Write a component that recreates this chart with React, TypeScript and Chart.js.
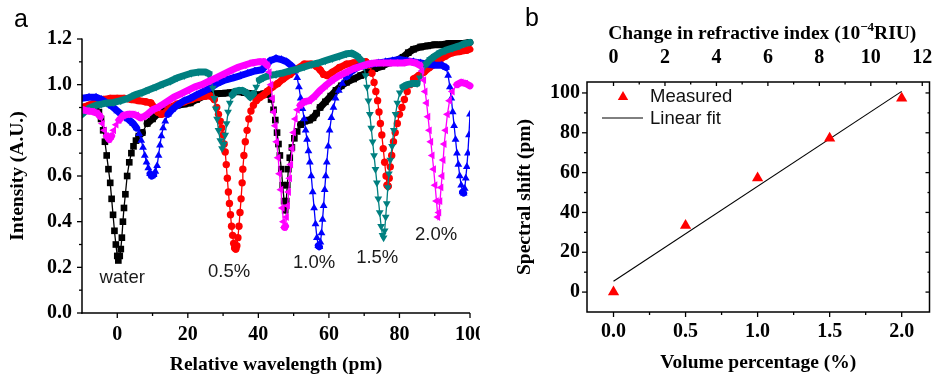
import React, { useEffect, useRef } from "react";
import { Chart, registerables } from "chart.js";

Chart.register(...registerables);

// ---------- Panel a: transmission spectra (relative wavelength pm, intensity A.U.) ----------
const waterSpectrum: [number, number][] = [
  [-10, 0.9], [-8, 0.905], [-6, 0.905], [-5.2, 0.88], [-4.6, 0.85], [-4, 0.8], [-3.5, 0.75], [-3, 0.69],
  [-2.5, 0.63], [-2, 0.57], [-1.6, 0.5], [-1.2, 0.43], [-0.8, 0.36], [-0.4, 0.3], [0, 0.25], [0.3, 0.23],
  [0.7, 0.25], [1, 0.28], [1.3, 0.33], [1.6, 0.4], [1.9, 0.46], [2.3, 0.52], [2.8, 0.6], [3.4, 0.66],
  [4, 0.7], [4.6, 0.73], [5.3, 0.755], [6.1, 0.775], [7.1, 0.79], [8.5, 0.83], [10, 0.85], [11.3, 0.87],
  [13, 0.885], [15, 0.9], [17, 0.91], [19, 0.915], [20.7, 0.92], [22.5, 0.935], [24.5, 0.95], [26.3, 0.958],
  [28, 0.96], [30, 0.962], [32, 0.965], [34, 0.97], [36, 0.965], [38, 0.96], [40, 0.955], [41.5, 0.96],
  [42.7, 0.958], [43.6, 0.935], [44.3, 0.89], [44.8, 0.845], [45.3, 0.79], [45.7, 0.74], [46.1, 0.69],
  [46.5, 0.63], [46.9, 0.56], [47.3, 0.49], [47.6, 0.45], [47.9, 0.49], [48.2, 0.56], [48.5, 0.63],
  [48.9, 0.68], [49.5, 0.725], [50.2, 0.765], [51, 0.795], [52, 0.825], [53.2, 0.84], [54.5, 0.845],
  [55.5, 0.855], [56.5, 0.875], [57.5, 0.9], [59, 0.925], [60.5, 0.95], [62, 0.975], [63.5, 0.995],
  [65, 1.01], [67, 1.025], [69, 1.04], [71, 1.055], [73, 1.07], [75, 1.08], [77, 1.095], [79, 1.105],
  [81, 1.12], [82.5, 1.14], [84, 1.155], [86, 1.165], [88, 1.17], [90, 1.175], [92, 1.175], [94, 1.18],
  [96, 1.18], [98, 1.18], [100, 1.185],
];

const pct05Spectrum: [number, number][] = [
  [-10, 0.9], [-8, 0.91], [-6, 0.925], [-4, 0.935], [-2, 0.94], [0, 0.94], [2, 0.94], [4, 0.935],
  [6, 0.93], [8, 0.925], [9.5, 0.92], [10.5, 0.9], [11.5, 0.88], [12.5, 0.87], [13.5, 0.875], [15, 0.9],
  [17, 0.915], [19, 0.925], [21, 0.935], [23, 0.945], [25, 0.95], [26.5, 0.95], [27.5, 0.935], [28.2, 0.9],
  [28.7, 0.87], [29.2, 0.84], [29.6, 0.81], [30, 0.78], [30.3, 0.74], [30.6, 0.705], [30.9, 0.65],
  [31.2, 0.59], [31.5, 0.53], [31.8, 0.48], [32.1, 0.43], [32.4, 0.38], [32.7, 0.34], [33, 0.305],
  [33.3, 0.285], [33.6, 0.28], [33.9, 0.295], [34.2, 0.33], [34.5, 0.38], [34.8, 0.44], [35.1, 0.5],
  [35.4, 0.57], [35.6, 0.63], [35.9, 0.69], [36.3, 0.75], [36.8, 0.8], [37.3, 0.85], [37.9, 0.885],
  [38.6, 0.91], [39.4, 0.93], [40.5, 0.945], [41.5, 0.955], [42.5, 0.97], [44, 0.99], [45.5, 1.005],
  [47, 1.025], [49, 1.045], [51, 1.07], [53, 1.09], [55, 1.09], [56.5, 1.08], [57.5, 1.065], [58.5, 1.045],
  [59.5, 1.04], [61, 1.055], [63, 1.075], [65, 1.09], [67, 1.095], [69, 1.1], [70.5, 1.1], [71.5, 1.085],
  [72.2, 1.05], [72.8, 1.01], [73.3, 0.97], [73.8, 0.93], [74.2, 0.88], [74.6, 0.83], [75, 0.78],
  [75.4, 0.72], [75.8, 0.66], [76.2, 0.6], [76.5, 0.56], [76.8, 0.555], [77.1, 0.59], [77.4, 0.64],
  [77.8, 0.69], [78.3, 0.75], [78.8, 0.79], [79.4, 0.83], [80, 0.87], [80.7, 0.9], [81.4, 0.935],
  [82.2, 0.97], [83, 1.0], [84, 1.025], [85.5, 1.04], [87, 1.055], [88.5, 1.075], [90, 1.09], [91.5, 1.11],
  [93, 1.125], [95, 1.14], [97, 1.145], [99, 1.15], [100, 1.155],
];

const pct10Spectrum: [number, number][] = [
  [-10, 0.94], [-8, 0.945], [-6, 0.945], [-4.5, 0.935], [-3, 0.92], [-1.5, 0.905], [0, 0.885], [1.5, 0.865],
  [3, 0.85], [4.5, 0.83], [5.5, 0.81], [6.2, 0.785], [6.8, 0.755], [7.3, 0.725], [7.8, 0.69], [8.3, 0.66],
  [8.8, 0.635], [9.3, 0.61], [9.8, 0.6], [10.3, 0.605], [10.8, 0.62], [11.3, 0.645], [11.7, 0.69],
  [12.1, 0.735], [12.5, 0.775], [13, 0.81], [13.6, 0.84], [14.4, 0.87], [15.5, 0.89], [17, 0.91],
  [19, 0.93], [20.7, 0.94], [22.5, 0.955], [24.4, 0.97], [26.3, 0.985], [28.3, 1.005], [30.5, 1.02],
  [32.9, 1.03], [35, 1.04], [37, 1.05], [39, 1.06], [41, 1.065], [42.3, 1.085], [43.3, 1.105], [45, 1.115],
  [46.5, 1.11], [48, 1.1], [49.6, 1.08], [50.4, 1.06], [51, 1.03], [51.5, 0.99], [52, 0.94], [52.5, 0.895],
  [53, 0.85], [53.4, 0.8], [53.8, 0.76], [54.2, 0.71], [54.6, 0.66], [55, 0.6], [55.4, 0.53], [55.8, 0.46],
  [56.2, 0.39], [56.6, 0.33], [57, 0.295], [57.3, 0.29], [57.6, 0.31], [57.9, 0.35], [58.2, 0.41],
  [58.5, 0.47], [58.8, 0.54], [59.1, 0.6], [59.4, 0.66], [59.8, 0.73], [60.2, 0.8], [60.7, 0.855],
  [61.3, 0.9], [61.9, 0.94], [62.8, 0.975], [63.8, 1.005], [65, 1.035], [66.5, 1.06], [68, 1.075],
  [70, 1.085], [72, 1.09], [74, 1.095], [76, 1.1], [78, 1.105], [80, 1.11], [82, 1.105], [84, 1.1],
  [86, 1.095], [88, 1.09], [90, 1.085], [92, 1.085], [93.2, 1.075], [93.8, 1.04], [94.3, 0.99],
  [94.7, 0.94], [95.1, 0.88], [95.5, 0.82], [95.9, 0.76], [96.3, 0.7], [96.7, 0.65], [97.1, 0.6],
  [97.5, 0.56], [97.9, 0.53], [98.2, 0.525], [98.5, 0.545], [98.8, 0.59], [99.1, 0.64], [99.4, 0.7],
  [99.7, 0.78], [100, 0.87],
];

const pct15Spectrum: [number, number][] = [
  [-10, 0.87], [-9, 0.885], [-7.6, 0.9], [-6, 0.91], [-4.5, 0.915], [-3, 0.92], [-1, 0.922], [1, 0.93],
  [3, 0.94], [5, 0.955], [7, 0.965], [9, 0.978], [11, 0.99], [13, 1.003], [15, 1.015], [17, 1.03],
  [19, 1.04], [21, 1.05], [23, 1.055], [25, 1.055], [26, 1.048], [26.6, 1.025], [27.1, 0.985], [27.5, 0.94],
  [27.9, 0.895], [28.3, 0.85], [28.7, 0.8], [29.2, 0.755], [29.7, 0.72], [30.2, 0.74], [30.6, 0.78],
  [31, 0.83], [31.4, 0.88], [31.9, 0.92], [32.6, 0.955], [33.4, 0.97], [34.5, 0.975], [35.5, 0.975],
  [36.5, 0.965], [37.7, 0.945], [38.6, 0.96], [39.4, 0.99], [40.3, 1.02], [41.4, 1.03], [43, 1.04],
  [45, 1.045], [47, 1.052], [49, 1.06], [51, 1.068], [53, 1.078], [55, 1.088], [57, 1.095], [59, 1.105],
  [61, 1.115], [63, 1.125], [65, 1.135], [66.5, 1.138], [68, 1.125], [69.2, 1.105], [69.9, 1.08],
  [70.4, 1.04], [70.8, 0.99], [71.2, 0.93], [71.6, 0.87], [72, 0.81], [72.4, 0.75], [72.8, 0.69],
  [73.2, 0.63], [73.6, 0.57], [74, 0.5], [74.4, 0.44], [74.8, 0.38], [75.2, 0.34], [75.5, 0.33],
  [75.8, 0.36], [76.1, 0.42], [76.4, 0.48], [76.7, 0.55], [77, 0.61], [77.4, 0.67], [77.9, 0.73],
  [78.4, 0.8], [78.9, 0.87], [79.4, 0.92], [80.1, 0.965], [81, 0.99], [82.2, 1.0], [83.5, 1.005],
  [85, 1.005], [85.8, 1.03], [86.5, 1.065], [87.5, 1.09], [88.7, 1.11], [90, 1.125], [91.5, 1.14],
  [93, 1.15], [95, 1.16], [97, 1.17], [98.5, 1.18], [100, 1.185],
];

const pct20Spectrum: [number, number][] = [
  [-10, 0.89], [-8.5, 0.885], [-7, 0.882], [-5.7, 0.875], [-4.8, 0.86], [-4.2, 0.83], [-3.6, 0.8],
  [-3, 0.775], [-2.3, 0.76], [-1.6, 0.775], [-1, 0.8], [-0.3, 0.825], [0.5, 0.845], [1.7, 0.865], [3, 0.87],
  [4.5, 0.87], [5.5, 0.865], [6.5, 0.855], [7.5, 0.86], [8.5, 0.87], [10, 0.89], [11.5, 0.9], [13, 0.915],
  [14.5, 0.93], [16, 0.945], [18, 0.96], [20, 0.975], [22, 0.99], [24, 1.0], [26, 1.015], [28, 1.03],
  [30, 1.045], [32, 1.06], [34, 1.075], [36, 1.085], [38, 1.095], [40, 1.1], [41.5, 1.1], [42.5, 1.085],
  [43.1, 1.055], [43.6, 1.0], [44, 0.94], [44.4, 0.88], [44.8, 0.82], [45.2, 0.75], [45.6, 0.68], [46, 0.61],
  [46.4, 0.54], [46.8, 0.46], [47.1, 0.4], [47.4, 0.375], [47.7, 0.38], [48, 0.42], [48.3, 0.47],
  [48.6, 0.53], [48.9, 0.59], [49.2, 0.65], [49.6, 0.72], [50, 0.79], [50.5, 0.85], [51.1, 0.89],
  [51.9, 0.91], [53, 0.925], [54.5, 0.93], [56, 0.95], [57.5, 0.975], [59, 0.995], [61, 1.02], [63, 1.04],
  [65, 1.055], [67, 1.07], [69, 1.08], [71, 1.09], [73, 1.095], [75, 1.095], [77, 1.095], [79, 1.095],
  [81, 1.095], [83, 1.1], [84.5, 1.095], [85.8, 1.085], [86.4, 1.06], [86.9, 1.02], [87.3, 0.97],
  [87.7, 0.92], [88.1, 0.86], [88.5, 0.8], [88.9, 0.75], [89.3, 0.69], [89.7, 0.63], [90.1, 0.56],
  [90.5, 0.49], [90.9, 0.42], [91.2, 0.44], [91.5, 0.49], [91.8, 0.55], [92.1, 0.6], [92.4, 0.67],
  [92.7, 0.74], [93.1, 0.8], [93.6, 0.87], [94.2, 0.93], [95, 0.97], [96.3, 1.0], [97.5, 1.01],
  [98.8, 1.005], [100, 0.995],
];

const wavelengthTicks = [0, 20, 40, 60, 80, 100];
const wavelengthMinor = [10, 30, 50, 70, 90];
const intensityTicks = [0, 0.2, 0.4, 0.6, 0.8, 1.0, 1.2];
const intensityMinor = [0.1, 0.3, 0.5, 0.7, 0.9, 1.1];

const curveLabels = ["water", "0.5%", "1.0%", "1.5%", "2.0%"];
const curveLabelX = [1.4, 31.7, 55.8, 73.7, 90.4];
const curveLabelY = [0.153, 0.18, 0.219, 0.241, 0.342];

// ---------- Panel b: spectral shift vs volume percentage ----------
const volumePct = [0, 0.5, 1.0, 1.5, 2.0];
const spectralShift = [0, 33.4, 57.3, 77.3, 97.3];
const fitVolume = [0, 2.0];
const fitShift = [5.4, 100.8];
const volumeTicks = [0, 0.5, 1.0, 1.5, 2.0];
const volumeMinor = [0.25, 0.75, 1.25, 1.75];
const riTicks = [0, 2, 4, 6, 8, 10, 12];
const riMinor = [1, 3, 5, 7, 9, 11];
const shiftTicks = [0, 20, 40, 60, 80, 100];
const shiftMinor = [10, 30, 50, 70, 90];

const SERIF = "'Liberation Serif', 'Times New Roman', serif";
const SANS = "'Liberation Sans', Arial, sans-serif";
const TICK_FONT = { family: SERIF, size: 20, weight: "bold" as const };
const TITLE_FONT = { family: SERIF, size: 19.5, weight: "bold" as const };

const seriesStyles = [
  { name: "water", data: waterSpectrum, color: "#000000", style: "rect", radius: 4.7, rotation: 0 },
  { name: "0.5%", data: pct05Spectrum, color: "#ff0000", style: "circle", radius: 3.7, rotation: 0 },
  { name: "1.0%", data: pct10Spectrum, color: "#0000ff", style: "triangle", radius: 4.5, rotation: 0 },
  { name: "1.5%", data: pct15Spectrum, color: "#008080", style: "triangle", radius: 4.5, rotation: 180 },
  { name: "2.0%", data: pct20Spectrum, color: "#ff00ff", style: "triangle", radius: 4.5, rotation: 270 },
];

function line(ctx: CanvasRenderingContext2D, x1: number, y1: number, x2: number, y2: number) {
  ctx.beginPath();
  ctx.moveTo(x1, y1);
  ctx.lineTo(x2, y2);
  ctx.stroke();
}

function setTicks(values: number[]) {
  return (scale: any) => {
    scale.ticks = values.map((v) => ({ value: v }));
  };
}

function fixSize(prop: "width" | "height", size: number) {
  return (scale: any) => {
    scale[prop] = size;
    scale.paddingLeft = 0;
    scale.paddingRight = 0;
    scale.paddingTop = 0;
    scale.paddingBottom = 0;
  };
}

// Dense instrument sampling shows as a thick band where the curve is flat:
// stroke flat stretches (between the library-placed points) with a wide pen.
const bandPlugin = {
  id: "band",
  beforeDatasetDraw(chart: any, args: any) {
    const ds = chart.data.datasets[args.index];
    if (!ds.bandWidth) return;
    const pts = args.meta.data;
    const ctx: CanvasRenderingContext2D = chart.ctx;
    const a = chart.chartArea;
    ctx.save();
    ctx.beginPath();
    ctx.rect(a.left, a.top - 6, a.right - a.left + 6, a.bottom - a.top + 6);
    ctx.clip();
    ctx.strokeStyle = ds.borderColor;
    ctx.lineWidth = ds.bandWidth;
    ctx.lineCap = "round";
    ctx.lineJoin = "round";
    ctx.beginPath();
    for (let i = 1; i < pts.length; i++) {
      const p0 = pts[i - 1];
      const p1 = pts[i];
      const dx = Math.abs(p1.x - p0.x);
      const dy = Math.abs(p1.y - p0.y);
      if (dy < dx * 1.4) {
        ctx.moveTo(p0.x, p0.y);
        ctx.lineTo(p1.x, p1.y);
      }
    }
    ctx.stroke();
    ctx.restore();
  },
};

const axesPluginA = {
  id: "axesA",
  afterDraw(chart: any) {
    const ctx: CanvasRenderingContext2D = chart.ctx;
    const a = chart.chartArea;
    const xs = chart.scales.x;
    const ys = chart.scales.y;
    ctx.save();
    ctx.strokeStyle = "#000";
    ctx.lineWidth = 1.5;
    line(ctx, a.left, a.top - 0.5, a.left, a.bottom + 0.75);
    line(ctx, a.left - 0.75, a.bottom, a.right, a.bottom);
    ctx.lineWidth = 1.3;
    intensityTicks.forEach((v) => { const y = ys.getPixelForValue(v); line(ctx, a.left - 5, y, a.left, y); });
    intensityMinor.forEach((v) => { const y = ys.getPixelForValue(v); line(ctx, a.left - 3, y, a.left, y); });
    wavelengthTicks.forEach((v) => { const x = xs.getPixelForValue(v); line(ctx, x, a.bottom, x, a.bottom + 5); });
    wavelengthMinor.forEach((v) => { const x = xs.getPixelForValue(v); line(ctx, x, a.bottom, x, a.bottom + 3); });
    ctx.fillStyle = "#1a1a1a";
    ctx.font = `18.5px ${SANS}`;
    ctx.textAlign = "center";
    ctx.textBaseline = "middle";
    curveLabels.forEach((t, i) => {
      ctx.fillText(t, xs.getPixelForValue(curveLabelX[i]), ys.getPixelForValue(curveLabelY[i]));
    });
    ctx.fillStyle = "#000";
    ctx.font = `25px ${SANS}`;
    ctx.fillText("a", 21, 20);
    ctx.restore();
  },
};

const axesPluginB = {
  id: "axesB",
  afterDraw(chart: any) {
    const ctx: CanvasRenderingContext2D = chart.ctx;
    const a = chart.chartArea;
    const xs = chart.scales.x;
    const xt = chart.scales.x2;
    const ys = chart.scales.y;
    ctx.save();
    ctx.strokeStyle = "#000";
    ctx.lineWidth = 1.5;
    ctx.strokeRect(a.left, a.top, a.right - a.left, a.bottom - a.top);
    ctx.lineWidth = 1.3;
    shiftTicks.forEach((v) => {
      const y = ys.getPixelForValue(v);
      line(ctx, a.left - 5, y, a.left, y);
      line(ctx, a.right, y, a.right - 4, y);
    });
    shiftMinor.forEach((v) => {
      const y = ys.getPixelForValue(v);
      line(ctx, a.left - 3, y, a.left, y);
      line(ctx, a.right, y, a.right - 2, y);
    });
    volumeTicks.forEach((v) => { const x = xs.getPixelForValue(v); line(ctx, x, a.bottom, x, a.bottom + 5); });
    volumeMinor.forEach((v) => { const x = xs.getPixelForValue(v); line(ctx, x, a.bottom, x, a.bottom + 3); });
    riTicks.forEach((v) => { const x = xt.getPixelForValue(v); line(ctx, x, a.top, x, a.top + 4); });
    riMinor.forEach((v) => { const x = xt.getPixelForValue(v); line(ctx, x, a.top, x, a.top + 2.5); });

    // top axis title with superscript
    const cx = (a.left + a.right) / 2 + 4;
    const base = 39;
    const p1 = "Change in refractive index (10";
    const p2 = "\u22124";
    const p3 = "RIU)";
    const mainF = `bold 19.5px ${SERIF}`;
    const supF = `bold 13px ${SERIF}`;
    ctx.font = mainF;
    const w1 = ctx.measureText(p1).width;
    const w3 = ctx.measureText(p3).width;
    ctx.font = supF;
    const w2 = ctx.measureText(p2).width;
    let x = cx - (w1 + w2 + w3) / 2;
    ctx.fillStyle = "#000";
    ctx.textAlign = "left";
    ctx.textBaseline = "alphabetic";
    ctx.font = mainF;
    ctx.fillText(p1, x, base);
    x += w1;
    ctx.font = supF;
    ctx.fillText(p2, x, base - 8);
    x += w2;
    ctx.font = mainF;
    ctx.fillText(p3, x, base);

    // legend
    const tx = 143, ty = 97, r = 6;
    ctx.fillStyle = "#ff0000";
    ctx.beginPath();
    ctx.moveTo(tx, ty - r);
    ctx.lineTo(tx + r * 0.866, ty + r * 0.5);
    ctx.lineTo(tx - r * 0.866, ty + r * 0.5);
    ctx.closePath();
    ctx.fill();
    ctx.strokeStyle = "#000";
    ctx.lineWidth = 1;
    line(ctx, 122, 118, 163, 118);
    ctx.fillStyle = "#111";
    ctx.font = `18.5px ${SANS}`;
    ctx.textBaseline = "middle";
    ctx.fillText("Measured", 170, 97);
    ctx.fillText("Linear fit", 170, 119);

    ctx.fillStyle = "#000";
    ctx.font = `25px ${SANS}`;
    ctx.textAlign = "center";
    ctx.fillText("b", 52, 19);
    ctx.restore();
  },
};

export default function App() {
  const refA = useRef<HTMLCanvasElement>(null);
  const refB = useRef<HTMLCanvasElement>(null);

  useEffect(() => {
    const chartA = new Chart(refA.current!, {
      type: "scatter",
      data: {
        datasets: seriesStyles.map((s, i) => ({
          label: s.name,
          data: s.data.map(([x, y]) => ({ x, y })),
          showLine: true,
          borderColor: s.color,
          backgroundColor: s.color,
          pointBackgroundColor: s.color,
          pointBorderColor: s.color,
          pointBorderWidth: 0,
          pointRadius: s.radius,
          pointStyle: s.style as any,
          pointRotation: s.rotation,
          borderWidth: 1.3,
          bandWidth: 7,
          order: seriesStyles.length - i,
        })) as any,
      },
      options: {
        animation: false,
        responsive: false,
        maintainAspectRatio: false,
        devicePixelRatio: 1,
        layout: { padding: { top: 39, right: 10, left: 0, bottom: 0 } },
        plugins: { legend: { display: false }, tooltip: { enabled: false } },
        events: [],
        scales: {
          x: {
            type: "linear",
            position: "bottom",
            min: -10,
            max: 100,
            afterBuildTicks: setTicks(wavelengthTicks),
            afterFit: fixSize("height", 64),
            grid: { display: false, drawTicks: false },
            border: { display: false },
            ticks: { font: TICK_FONT, color: "#000", padding: 10, autoSkip: false, maxRotation: 0, callback: (v: any) => String(v) },
            title: { display: true, text: "Relative wavelength (pm)", font: TITLE_FONT, color: "#000", padding: { top: 0, bottom: 0.5 } },
          },
          y: {
            type: "linear",
            min: 0,
            max: 1.2,
            afterBuildTicks: setTicks(intensityTicks),
            afterFit: fixSize("width", 82),
            grid: { display: false, drawTicks: false },
            border: { display: false },
            ticks: { font: TICK_FONT, color: "#000", padding: 10, autoSkip: false, callback: (v: any) => Number(v).toFixed(1) },
            title: { display: true, text: "Intensity (A.U.)", font: TITLE_FONT, color: "#000", padding: { top: 6, bottom: 0 } },
          },
        },
      },
      plugins: [bandPlugin, axesPluginA],
    });

    const chartB = new Chart(refB.current!, {
      type: "scatter",
      data: {
        datasets: [
          {
            label: "Measured",
            data: volumePct.map((x, i) => ({ x, y: spectralShift[i] })),
            pointStyle: "triangle",
            pointRadius: 6.5,
            pointBackgroundColor: "#ff0000",
            pointBorderColor: "#ff0000",
            pointBorderWidth: 0,
            showLine: false,
            order: 1,
          },
          {
            label: "Linear fit",
            data: fitVolume.map((x, i) => ({ x, y: fitShift[i] })),
            showLine: true,
            borderColor: "#000",
            borderWidth: 1.1,
            pointRadius: 0,
            order: 2,
          },
        ],
      },
      options: {
        animation: false,
        responsive: false,
        maintainAspectRatio: false,
        devicePixelRatio: 1,
        layout: { padding: { top: 0, right: 1, left: 0, bottom: 0 } },
        plugins: { legend: { display: false }, tooltip: { enabled: false } },
        events: [],
        scales: {
          x: {
            type: "linear",
            position: "bottom",
            min: -0.184,
            max: 2.193,
            afterBuildTicks: setTicks(volumeTicks),
            afterFit: fixSize("height", 65),
            grid: { display: false, drawTicks: false },
            border: { display: false },
            ticks: { font: TICK_FONT, color: "#000", padding: 8, autoSkip: false, maxRotation: 0, callback: (v: any) => Number(v).toFixed(1) },
            title: { display: true, text: "Volume percentage (%)", font: TITLE_FONT, color: "#000", padding: { top: 0, bottom: 2 } },
          },
          x2: {
            type: "linear",
            position: "top",
            axis: "x",
            min: -0.184 * 5.6,
            max: 2.193 * 5.6,
            afterBuildTicks: setTicks(riTicks),
            afterFit: fixSize("height", 82),
            grid: { display: false, drawTicks: false },
            border: { display: false },
            ticks: { font: TICK_FONT, color: "#000", padding: 12, autoSkip: false, maxRotation: 0, callback: (v: any) => String(v) },
          },
          y: {
            type: "linear",
            min: -10,
            max: 105.5,
            afterBuildTicks: setTicks(shiftTicks),
            afterFit: fixSize("width", 107),
            grid: { display: false, drawTicks: false },
            border: { display: false },
            ticks: { font: TICK_FONT, color: "#000", padding: 7, autoSkip: false, callback: (v: any) => String(v) },
            title: { display: true, text: "Spectral shift (pm)", font: TITLE_FONT, color: "#000", padding: { top: 33, bottom: 0 } },
          },
        },
      },
      plugins: [axesPluginB],
    });

    return () => {
      chartA.destroy();
      chartB.destroy();
    };
  }, []);

  return (
    <div style={{ position: "fixed", left: 0, top: 0, width: 936, height: 377, background: "#fff", overflow: "hidden" }}>
      <canvas ref={refA} width={480} height={377} style={{ position: "absolute", left: 0, top: 0, width: 480, height: 377 }} />
      <canvas ref={refB} width={456} height={377} style={{ position: "absolute", left: 480, top: 0, width: 456, height: 377 }} />
    </div>
  );
}
